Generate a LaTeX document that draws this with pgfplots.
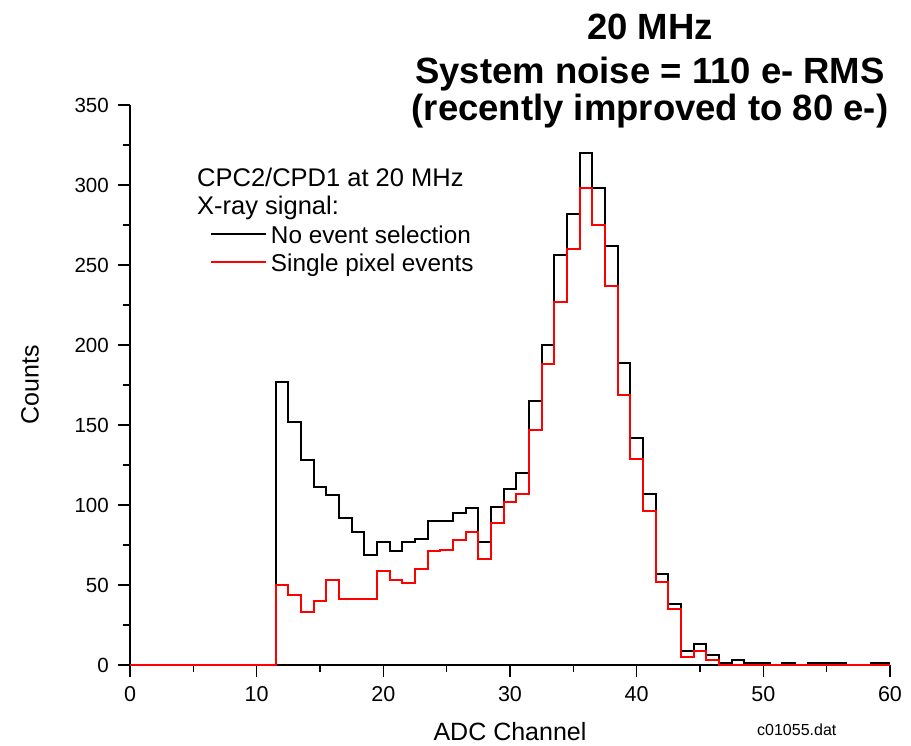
\documentclass[border=0pt]{standalone}
\usepackage{fontspec}
\setmainfont{Liberation Sans}
\usepackage{pgfplots}
\pgfplotsset{compat=1.18}
\definecolor{histred}{RGB}{255,0,0}

\begin{document}
\begin{tikzpicture}
\useasboundingbox (-130pt,-80pt) rectangle (781pt,665pt);
\begin{axis}[
  scale only axis, width=760pt, height=560pt,
  xmin=0, xmax=60, ymin=0, ymax=350,
  axis x line=bottom, axis y line=left,
  axis line style={-, line width=1.8pt, black},
  tick align=outside,
  major tick length=12pt, minor tick length=7pt,
  tick style={black, line width=1.6pt},
  major tick style={black, line width=1.6pt},
  minor tick style={black, line width=1.6pt},
  xtick={0,10,...,60}, ytick={0,50,...,350},
  minor xtick={5,15,...,55}, minor ytick={25,75,...,325},
  ticklabel style={inner sep=0pt},
  xticklabel style={font=\fontsize{21.5}{25}\selectfont},
  yticklabel style={font=\fontsize{20.5}{24}\selectfont},
  xticklabel shift=9pt, yticklabel shift=9pt,
  /pgf/number format/assume math mode=true,
  clip=false,
  xlabel={ADC Channel}, ylabel={Counts},
  x label style={at={(axis description cs:0.5,0)}, anchor=base, yshift=-75.5pt,
                 font=\fontsize{25}{30}\selectfont, inner sep=0pt},
  y label style={at={(axis description cs:-0.1316,0.5)}, anchor=center,
                 font=\fontsize{25}{30}\selectfont, inner sep=0pt},
  legend cell align=left,
  legend style={draw=none, fill=none, at={(axis description cs:0.10526,0.7857)},
                anchor=north west, inner sep=0pt, outer sep=0pt, row sep=10pt,
                font=\fontsize{24.3}{29}\selectfont,
                nodes={inner sep=0pt, text height=18pt, text depth=0pt}},
  legend image code/.code={\draw[#1] (0pt,0pt) -- (55pt,0pt); \path (59pt,0pt);},
]
% all events
\addplot[black, line width=2pt, const plot mark mid] coordinates {
  (0,0) (1,0) (2,0) (3,0) (4,0) (5,0) (6,0) (7,0) (8,0) (9,0) (10,0) (11,0)
  (12,177) (13,152) (14,128) (15,111) (16,106) (17,92) (18,83) (19,69)
  (20,77) (21,71) (22,77) (23,79) (24,90) (25,90) (26,95) (27,98) (28,77)
  (29,99) (30,110) (31,120) (32,165) (33,200) (34,256) (35,282) (36,320)
  (37,298) (38,262) (39,189) (40,142) (41,107) (42,57) (43,38) (44,9)
  (45,13) (46,6) (47,1) (48,3) (49,1) (50,1) (51,0) (52,1) (53,0) (54,1)
  (55,1) (56,1) (57,0) (58,0) (59,1) (60,1)
};
\addlegendentry{No event selection}
% single pixel events only
\addplot[histred, line width=2pt, const plot mark mid] coordinates {
  (0,0) (1,0) (2,0) (3,0) (4,0) (5,0) (6,0) (7,0) (8,0) (9,0) (10,0) (11,0)
  (12,50) (13,44) (14,33) (15,40) (16,53) (17,41) (18,41) (19,41)
  (20,59) (21,53) (22,51) (23,60) (24,71) (25,72) (26,78) (27,83) (28,66)
  (29,89) (30,102) (31,107) (32,147) (33,188) (34,227) (35,260) (36,298)
  (37,275) (38,237) (39,169) (40,129) (41,96) (42,52) (43,35) (44,5)
  (45,9) (46,3) (47,0) (48,0) (49,0) (50,0) (51,0) (52,0) (53,0) (54,0)
  (55,0) (56,0) (57,0) (58,0) (59,0) (60,0)
};
\addlegendentry{Single pixel events}
\end{axis}
% legend heading
\node[anchor=base west, inner sep=0pt, font=\fontsize{25.5}{30}\selectfont]
  at (67pt,478.3pt) {CPC2/CPD1 at 20 MHz};
\node[anchor=base west, inner sep=0pt, font=\fontsize{25.5}{30}\selectfont]
  at (67pt,450pt) {X-ray signal:};
% title
\node[anchor=base, inner sep=0pt, font=\fontsize{36.5}{43}\selectfont\bfseries]
  at (520pt,625pt) {20 MHz};
\node[anchor=base, inner sep=0pt, font=\fontsize{36.5}{43}\selectfont\bfseries]
  at (520pt,581.7pt) {System noise = 110 e- RMS};
\node[anchor=base, inner sep=0pt, font=\fontsize{36.5}{43}\selectfont\bfseries]
  at (520pt,544.3pt) {(recently improved to 80 e-)};
% data file tag
\node[anchor=base west, inner sep=0pt, font=\fontsize{16}{19}\selectfont]
  at (627pt,-70pt) {c01055.dat};
\end{tikzpicture}
\end{document}
